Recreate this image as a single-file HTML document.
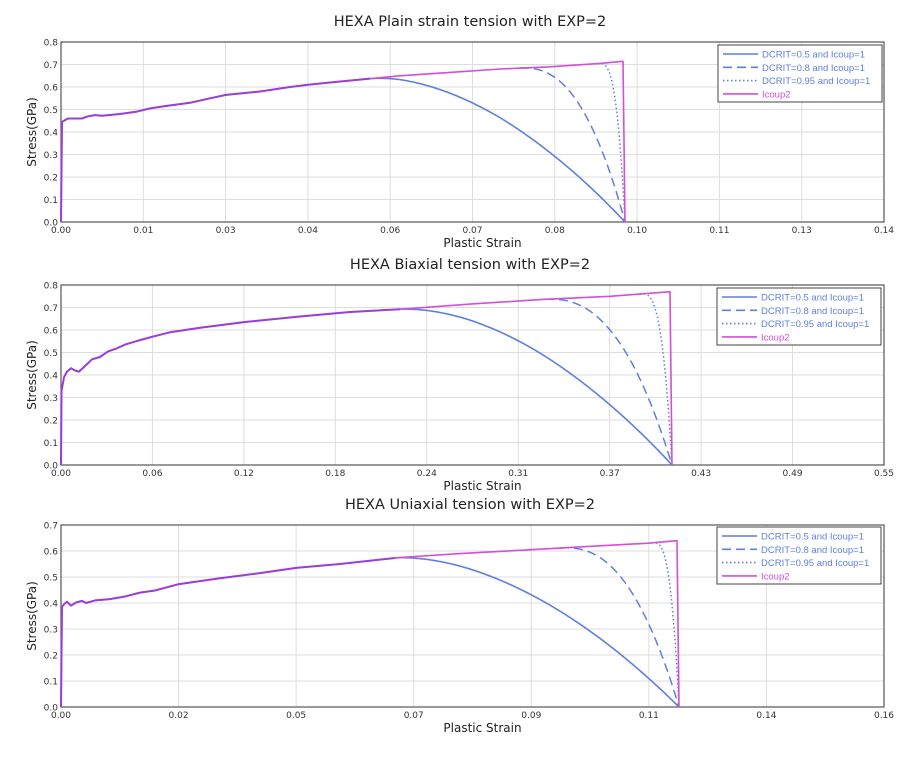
<!DOCTYPE html>
<html><head><meta charset="utf-8">
<style>
html,body{margin:0;padding:0;background:#fff;}
svg text{font-family:"DejaVu Sans","Liberation Sans",sans-serif;}
svg text.lg{font-family:"Liberation Sans",sans-serif;}
</style></head>
<body>
<svg id="s" width="912" height="761" xmlns="http://www.w3.org/2000/svg"></svg>
<script>
const S=document.getElementById('s');let h='';
const BLUE='#5f7fe0',PINK='#d44ed8',PURP='#9a3fd6';
function chart(c){
  const {top,bot,x0,x1,ymax,ticks,title,xl,main,fail,leg}=c;
  const yv=v=>bot-(v/ymax)*(bot-top);
  h+=`<text x="470" y="${top-16}" font-size="14.5" text-anchor="middle" fill="#222">${title}</text>`;
  const n=ticks.length-1;
  for(let i=0;i<=n;i++){const x=x0+(x1-x0)*i/n;
    if(i>0&&i<n)h+=`<line x1="${x}" y1="${top}" x2="${x}" y2="${bot}" stroke="#ddd" stroke-width="1"/>`;
    h+=`<text x="${x}" y="${bot+11}" font-size="9" text-anchor="middle" fill="#333">${ticks[i]}</text>`;}
  const ny=Math.round(ymax*10);
  for(let j=0;j<=ny;j++){const y=yv(j/10);
    if(j>0&&j<ny)h+=`<line x1="${x0}" y1="${y}" x2="${x1}" y2="${y}" stroke="#ddd" stroke-width="1"/>`;
    h+=`<text x="${x0-3}" y="${y+3.5}" font-size="9" text-anchor="end" fill="#333">${(j/10).toFixed(1)}</text>`;}
  h+=`<rect x="${x0}" y="${top}" width="${x1-x0}" height="${bot-top}" fill="none" stroke="#555" stroke-width="1.2"/>`;
  h+=`<text x="${(x0+x1)/2+10}" y="${bot+25}" font-size="12" text-anchor="middle" fill="#222">Plastic Strain</text>`;
  h+=`<text transform="translate(36,${(top+bot)/2}) rotate(-90)" font-size="12" text-anchor="middle" fill="#222">Stress(GPa)</text>`;
  const base=x=>{for(let i=1;i<main.length;i++){if(x<=main[i][0]){const a=main[i-1],b=main[i];return a[1]+(b[1]-a[1])*(x-a[0])/(b[0]-a[0]);}}return main[main.length-1][1];};
  const xe=c.xe;
  const fcurve=(xs,p)=>{let pts=[];for(let x=xs;x<=xe;x+=0.5){const t=(x-xs)/(xe-xs);pts.push([x,base(x)*(1-Math.pow(t,p))]);}pts.push([xe,0]);return pts;};
  const poly=(pts,col,dash,w)=>{h+=`<polyline points="${pts.map(p=>p[0].toFixed(1)+','+yv(p[1]).toFixed(1)).join(' ')}" fill="none" stroke="${col}" stroke-width="${w||1.6}" ${dash?`stroke-dasharray="${dash}"`:''} stroke-linejoin="round"/>`;};
  poly(fcurve(fail[0][0],fail[0][1]),BLUE,'',1.6);
  poly(fcurve(fail[1][0],fail[1][1]),BLUE,'9,5',1.5);
  poly(fcurve(fail[2][0],fail[2][1]),BLUE,'1.5,2.5',1.5);
  let pk=[[x0,0]].concat(main.filter(p=>p[0]<=xe-2));pk.push([xe-2,base(xe-2)]);pk.push([xe,0]);
  poly(pk,PINK,'',1.6);
  let pu=[[x0,0]].concat(main.filter(p=>p[0]<=fail[0][0]));pu.push([fail[0][0],base(fail[0][0])]);
  poly(pu,PURP,'',2);
  const [lx,ly]=leg;
  h+=`<rect x="${lx}" y="${ly}" width="164" height="57" fill="#fff" stroke="#444" stroke-width="1"/>`;
  const L=[['DCRIT=0.5 and Icoup=1','',BLUE],['DCRIT=0.8 and Icoup=1','9,5',BLUE],['DCRIT=0.95 and Icoup=1','1.5,2.5',BLUE],['Icoup2','',PINK]];
  L.forEach((l,i)=>{const y=ly+9+i*13.3;
    h+=`<line x1="${lx+5}" y1="${y}" x2="${lx+40}" y2="${y}" stroke="${l[2]}" stroke-width="1.6" ${l[1]?`stroke-dasharray="${l[1]}"`:''}/>`;
    h+=`<text class="lg" x="${lx+44}" y="${y+3.5}" font-size="9.5" fill="${l[2]}">${l[0]}</text>`;});
}
chart({top:42,bot:222,x0:61,x1:884,ymax:0.8,title:'HEXA Plain strain tension with EXP=2',
 ticks:['0.00','0.01','0.03','0.04','0.06','0.07','0.08','0.10','0.11','0.13','0.14'],xe:625,
 main:[[61,0],[62,0.445],[64,0.45],[68,0.46],[82,0.46],[88,0.47],[95,0.475],[102,0.472],[120,0.48],[136,0.49],[150,0.505],[165,0.515],[190,0.53],[210,0.55],[226,0.565],[260,0.58],[290,0.60],[308,0.61],[330,0.62],[365,0.635],[400,0.65],[450,0.665],[500,0.68],[550,0.69],[600,0.705],[625,0.715]],
 fail:[[370,1.7],[520,2.4],[598,3.2]],leg:[718,45]});
chart({top:285,bot:465,x0:61,x1:884,ymax:0.8,title:'HEXA Biaxial tension with EXP=2',
 ticks:['0.00','0.06','0.12','0.18','0.24','0.31','0.37','0.43','0.49','0.55'],xe:672,
 main:[[61,0],[61.5,0.33],[64,0.39],[67,0.415],[71,0.43],[75,0.42],[79,0.415],[85,0.44],[92,0.47],[100,0.48],[108,0.505],[115,0.515],[125,0.535],[140,0.555],[152,0.57],[170,0.59],[200,0.61],[244,0.635],[300,0.66],[350,0.68],[410,0.695],[470,0.715],[540,0.735],[610,0.75],[669,0.77]],
 fail:[[400,1.7],[545,2.4],[640,3.2]],leg:[717,288]});
chart({top:525,bot:707,x0:61,x1:884,ymax:0.7,title:'HEXA Uniaxial tension with EXP=2',
 ticks:['0.00','0.02','0.05','0.07','0.09','0.11','0.14','0.16'],xe:679,
 main:[[61,0],[62,0.385],[64,0.395],[67,0.405],[71,0.39],[76,0.402],[82,0.408],[86,0.4],[95,0.41],[110,0.415],[125,0.425],[140,0.44],[155,0.448],[178,0.472],[220,0.495],[260,0.515],[296,0.535],[340,0.55],[400,0.575],[460,0.59],[531,0.605],[600,0.62],[648,0.63],[678,0.64]],
 fail:[[395,1.7],[560,2.4],[652,3.2]],leg:[717,527]});
S.innerHTML=h;
</script>
</body></html>
